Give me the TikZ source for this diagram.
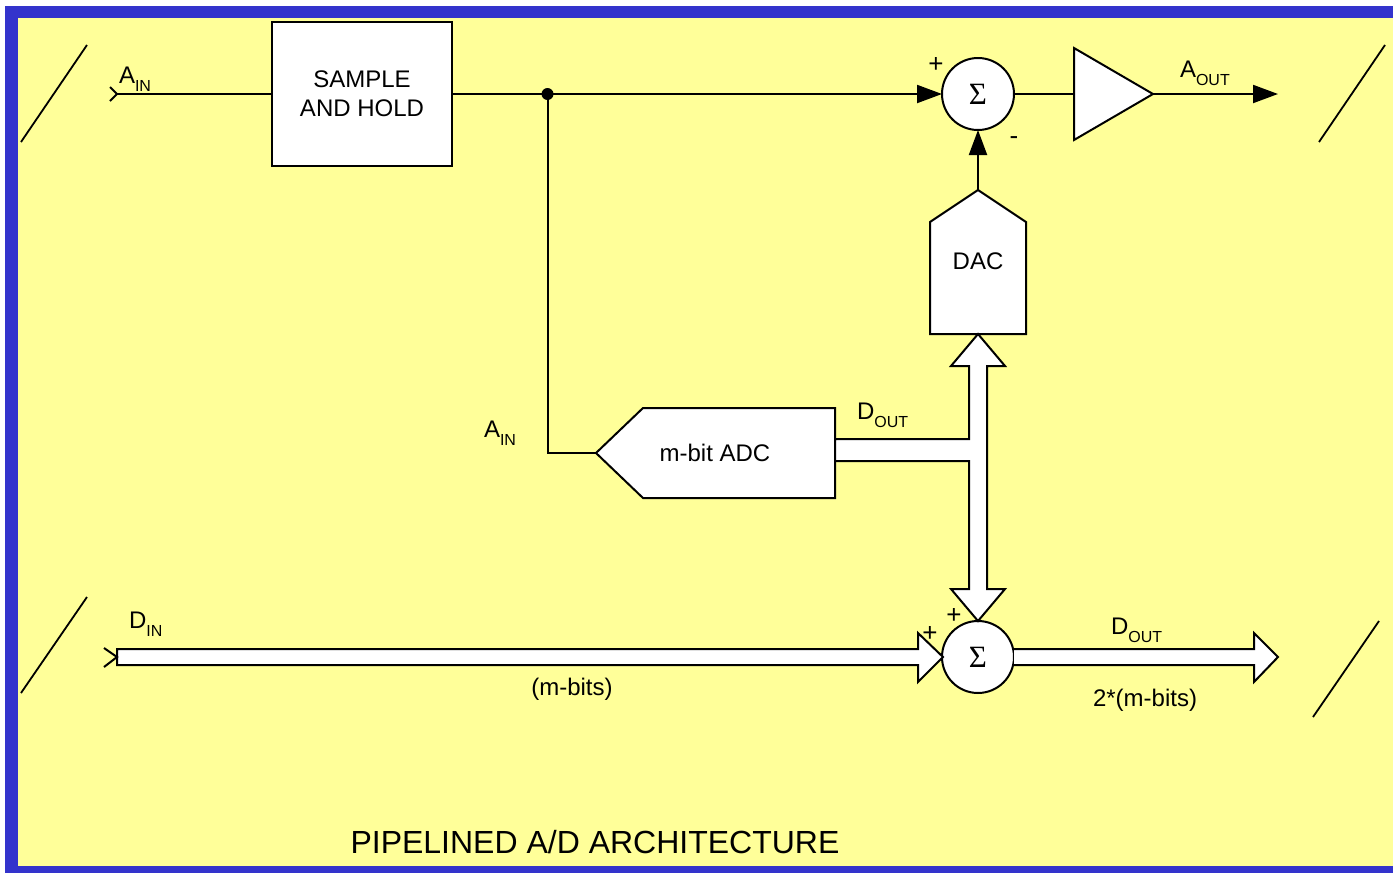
\documentclass[tikz,border=0pt]{standalone}
\usepackage{fontspec}
\setmainfont{Liberation Sans}
\newfontfamily\sigmafont{Liberation Serif}
\usetikzlibrary{arrows.meta}
\definecolor{framecol}{RGB}{51,51,204}
\definecolor{panelcol}{RGB}{255,255,153}
\newcommand{\fsz}[1]{\fontsize{#1}{#1}\selectfont}
\newcommand{\sublab}[2]{\fsz{24}#1\raisebox{-8.5pt}{\fsz{16}#2}}
\tikzset{
  wire/.style={draw=black,line width=2pt},
  arrowwire/.style={wire,-{Triangle[length=25pt,width=18pt]}},
  block/.style={draw=black,line width=2pt,fill=white,line join=miter},
  sumnode/.style={circle,draw=black,line width=2pt,fill=white,minimum size=72pt,inner sep=0pt,outer sep=0pt,font=\sigmafont\fsz{31}},
  boxnode/.style={rectangle,draw=black,line width=2pt,fill=white,inner sep=0pt,outer sep=0pt,align=center,font=\fsz{24}},
  txt/.style={inner sep=0pt,outer sep=0pt,font=\fsz{24}},
  signtxt/.style={inner sep=0pt,outer sep=0pt,font=\fsz{26}},
  lab/.style={inner sep=0pt,outer sep=0pt,anchor=base west},
  breakline/.style={draw=black,line width=1.8pt}
}
\begin{document}
\begin{tikzpicture}[x=1pt,y=-1pt]
\useasboundingbox (0,0) rectangle (1393,873);
\fill[white] (0,0) rectangle (1393,873);
\fill[framecol] (5,6) rectangle (1393,873);
\fill[panelcol] (17.5,18) rectangle (1393,866);

% break marks
\coordinate (b1a) at (21,142); \coordinate (b1b) at (87,45);
\coordinate (b2a) at (1319,142); \coordinate (b2b) at (1385,45);
\coordinate (b3a) at (21,693); \coordinate (b3b) at (87,597);
\coordinate (b4a) at (1313,717); \coordinate (b4b) at (1379,621);
\draw[breakline] (b1a) -- (b1b);
\draw[breakline] (b2a) -- (b2b);
\draw[breakline] (b3a) -- (b3b);
\draw[breakline] (b4a) -- (b4b);

% blocks
\node[boxnode,minimum width=180pt,minimum height=144pt] (sh) at (362,94) {SAMPLE\\[5pt]AND HOLD};
\node[sumnode] (sum1) at (978,94) {Σ};
\node[sumnode] (sum2) at (978,657) {Σ};

% amplifier
\coordinate (ampin) at (1074,94);
\coordinate (ampout) at (1153,94);

% free ends
\coordinate (ain) at (117,94);
\coordinate (aoutend) at (1278,94);
\coordinate (junc) at (547.5,94);
\coordinate (adcin) at (596,453);
\coordinate (dactop) at (978,190);

% wires
\draw[wire] (ain) -- (sh.west);
\draw[wire] (sh.east) -- (junc);
\draw[arrowwire] (junc) -- (sum1.west);
\draw[wire] (junc) |- (adcin);
\draw[arrowwire] (dactop) -- (sum1.south);
\draw[wire] (sum1.east) -- (ampin);
\draw[arrowwire] (ampout) -- (aoutend);
\fill[black] (junc) circle (6pt);
\draw[wire,line join=miter] (110,87) -- (ain) -- (110,101);

% amplifier body
\draw[block] (1074,48) -- (1074,140) -- (ampout) -- cycle;

% DAC
\draw[block] (930,334) -- (930,222) -- (dactop) -- (1026,222) -- (1026,334) -- cycle;
\node[txt] (dac) at (978,261) {DAC};

% ADC
\draw[block] (835,408) -- (643,408) -- (adcin) -- (643,498) -- (835,498) -- cycle;
\node[txt] (adc) at (715,453) {m-bit ADC};

% data bus DAC / ADC / sum
\draw[block] (978,334) -- (1005,366) -- (987,366) -- (987,589) -- (1005,589) -- (978,621) -- (951,589) -- (969,589) -- (969,461) -- (835,461) -- (835,439) -- (969,439) -- (969,366) -- (951,366) -- cycle;

% input bus
\draw[block] (117,649) -- (918,649) -- (918,633) -- (943,657) -- (918,682) -- (918,665) -- (117,665) -- cycle;
\draw[wire,line join=miter] (104,648) -- (117,657) -- (104,667);

% output bus
\draw[block] (1014,649) -- (1254,649) -- (1254,633) -- (1278,657) -- (1254,682) -- (1254,665) -- (1014,665);

% labels
\node[lab] (l1) at (119,83) {\sublab{A}{IN}};
\node[lab] (l2) at (1180,77) {\sublab{A}{OUT}};
\node[lab] (l3) at (484,437) {\sublab{A}{IN}};
\node[lab] (l4) at (857,419) {\sublab{D}{OUT}};
\node[lab] (l5) at (129,628) {\sublab{D}{IN}};
\node[lab] (l6) at (1111,634) {\sublab{D}{OUT}};
\node[signtxt] (p1) at (936,65) {+};
\node[signtxt] (m1) at (1014,141) {-};
\node[signtxt] (p2) at (954,616) {+};
\node[signtxt] (p3) at (930,634) {+};
\node[txt] (bits1) at (572,689) {(m-bits)};
\node[txt] (bits2) at (1145,700) {2*(m-bits)};
\node[inner sep=0pt,font=\fsz{32}] (title) at (595,842) {PIPELINED A/D ARCHITECTURE};
\end{tikzpicture}
\end{document}
